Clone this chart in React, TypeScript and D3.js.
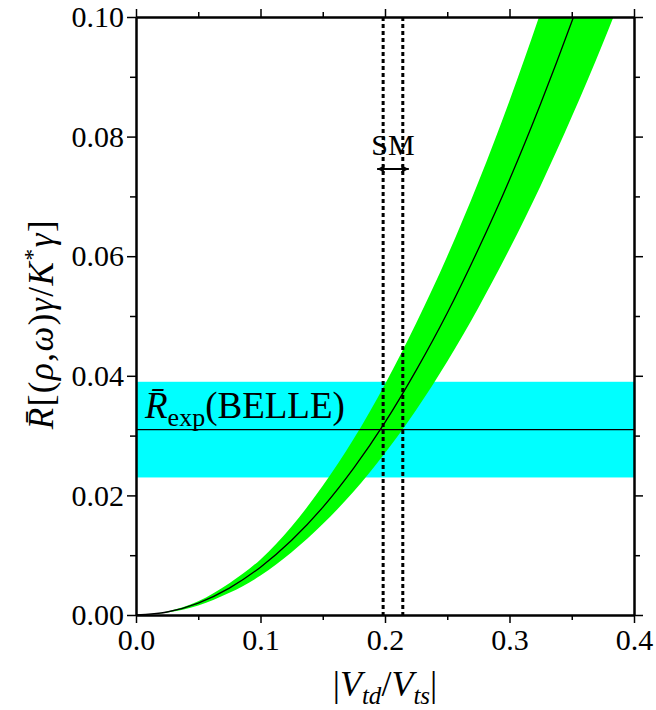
import React, { useRef, useEffect } from "react";
import * as d3 from "d3";

// |Vtd/Vts| sample points and band
const vtd = [0, 0.025, 0.05, 0.075, 0.1, 0.125, 0.15, 0.175, 0.2, 0.225, 0.25, 0.275, 0.3, 0.325, 0.35, 0.375, 0.4];
const rCentral = [0, 0.0005, 0.002, 0.0045, 0.008, 0.0125, 0.018, 0.0246, 0.0322, 0.0409, 0.0505, 0.0612, 0.0728, 0.0855, 0.0992, 0.1139, 0.1296];
const rUpper = [0, 0.0006, 0.0023, 0.0053, 0.0093, 0.0148, 0.0216, 0.0295, 0.0386, 0.0488, 0.06, 0.0724, 0.086, 0.1008, 0.1164, 0.1336, 0.152];
const rLower = [0, 0.0004, 0.0016, 0.0037, 0.0066, 0.0105, 0.0152, 0.0207, 0.0271, 0.0343, 0.0424, 0.0514, 0.0612, 0.0718, 0.0833, 0.0956, 0.1088];

// BELLE measurement: central value and band
const belle = { value: 0.031, lo: 0.023, hi: 0.039 };
// SM range for |Vtd/Vts|
const smRange = [0.1985, 0.2143];

const xMajor = [0, 0.1, 0.2, 0.3, 0.4];
const xMinor = [0.05, 0.15, 0.25, 0.35];
const yMajor = [0, 0.02, 0.04, 0.06, 0.08, 0.1];
const yMinor = [0.01, 0.03, 0.05, 0.07, 0.09];

const W = 656, H = 710;
const FONT = "Liberation Serif, Times New Roman, serif";

export default function App() {
  const ref = useRef<SVGSVGElement>(null);

  useEffect(() => {
    const svg = d3.select(ref.current);
    svg.selectAll("*").remove();

    const left = 136, right = 634, top = 17, bottom = 615;
    const x = d3.scaleLinear().domain([0, 0.4]).range([left, right]);
    const y = d3.scaleLinear().domain([0, 0.1]).range([bottom, top]);

    svg.append("defs").append("clipPath").attr("id", "plot")
      .append("rect").attr("x", left).attr("y", top)
      .attr("width", right - left).attr("height", bottom - top);

    const plot = svg.append("g").attr("clip-path", "url(#plot)");

    // BELLE band
    plot.append("rect")
      .attr("x", left).attr("width", right - left)
      .attr("y", y(belle.hi)).attr("height", y(belle.lo) - y(belle.hi))
      .attr("fill", "#00ffff");

    // theory band
    const pts = vtd.map((v, i) => ({ v, c: rCentral[i], u: rUpper[i], l: rLower[i] }));
    const area = d3.area<any>()
      .x((d) => x(d.v)).y0((d) => y(d.l)).y1((d) => y(d.u))
      .curve(d3.curveMonotoneX);
    plot.append("path").attr("d", area(pts)).attr("fill", "#00ff00");

    const line = d3.line<any>().x((d) => x(d.v)).y((d) => y(d.c)).curve(d3.curveMonotoneX);
    plot.append("path").attr("d", line(pts))
      .attr("fill", "none").attr("stroke", "#000").attr("stroke-width", 1.3);

    plot.append("line")
      .attr("x1", left).attr("x2", right)
      .attr("y1", y(belle.value)).attr("y2", y(belle.value))
      .attr("stroke", "#000").attr("stroke-width", 1.3);

    // SM dotted lines
    smRange.forEach((v) => {
      plot.append("line")
        .attr("x1", x(v)).attr("x2", x(v)).attr("y1", top).attr("y2", bottom)
        .attr("stroke", "#000").attr("stroke-width", 3).attr("stroke-dasharray", "4,3");
    });

    // axes: major and minor ticks on all sides
    const styleAxis = (g: any) => {
      g.attr("font-family", FONT).attr("font-size", 30);
      g.select(".domain").attr("stroke-width", 2);
      g.selectAll(".tick line").attr("stroke-width", 1.5);
      g.selectAll(".tick text")
        .style("font-family", FONT).style("font-size", "30px").attr("fill", "#000");
    };
    const fx = d3.format(".1f");
    const fy = d3.format(".2f");

    svg.append("g").attr("transform", `translate(0,${bottom})`)
      .call(d3.axisBottom(x).tickValues(xMinor).tickSize(5).tickSizeOuter(0).tickFormat(() => ""))
      .call(styleAxis);
    svg.append("g").attr("transform", `translate(0,${bottom})`)
      .call(d3.axisBottom(x).tickValues(xMajor).tickSize(8).tickSizeOuter(0).tickPadding(6).tickFormat((d: any) => fx(d)))
      .call(styleAxis);
    svg.append("g").attr("transform", `translate(0,${top})`)
      .call(d3.axisTop(x).tickValues(xMinor).tickSize(5).tickSizeOuter(0).tickFormat(() => ""))
      .call(styleAxis);
    svg.append("g").attr("transform", `translate(0,${top})`)
      .call(d3.axisTop(x).tickValues(xMajor).tickSize(8).tickSizeOuter(0).tickFormat(() => ""))
      .call(styleAxis);
    svg.append("g").attr("transform", `translate(${left},0)`)
      .call(d3.axisLeft(y).tickValues(yMinor).tickSize(6).tickSizeOuter(0).tickFormat(() => ""))
      .call(styleAxis);
    svg.append("g").attr("transform", `translate(${left},0)`)
      .call(d3.axisLeft(y).tickValues(yMajor).tickSize(9).tickSizeOuter(0).tickPadding(3).tickFormat((d: any) => fy(d)))
      .call(styleAxis);
    svg.append("g").attr("transform", `translate(${right},0)`)
      .call(d3.axisRight(y).tickValues(yMinor).tickSize(6).tickSizeOuter(0).tickFormat(() => ""))
      .call(styleAxis);
    svg.append("g").attr("transform", `translate(${right},0)`)
      .call(d3.axisRight(y).tickValues(yMajor).tickSize(9).tickSizeOuter(0).tickFormat(() => ""))
      .call(styleAxis);

    // SM label and double arrow
    svg.append("text")
      .attr("x", x((smRange[0] + smRange[1]) / 2)).attr("y", 155)
      .attr("text-anchor", "middle").attr("font-family", FONT).attr("font-size", 30)
      .text("SM");
    const ay = 169, ax0 = x(smRange[0]) - 6, ax1 = x(smRange[1]) + 6;
    svg.append("line").attr("x1", ax0).attr("x2", ax1).attr("y1", ay).attr("y2", ay)
      .attr("stroke", "#000").attr("stroke-width", 2);
    svg.append("path")
      .attr("d", `M${ax0},${ay}l8,-4l-2,4l2,4z M${ax1},${ay}l-8,-4l2,4l-2,4z`)
      .attr("fill", "#000");

    // BELLE label
    const bl = svg.append("text").attr("x", 145).attr("y", 418)
      .attr("font-family", FONT).attr("font-size", 37);
    bl.append("tspan").attr("font-style", "italic").text("R\u0304");
    bl.append("tspan").attr("font-size", 26).attr("dy", 8).text("exp");
    bl.append("tspan").attr("dy", -8).text("(BELLE)");

    // x title
    const xt = svg.append("text").attr("x", 385).attr("y", 696)
      .attr("text-anchor", "middle").attr("font-family", FONT).attr("font-size", 36);
    xt.append("tspan").text("|");
    xt.append("tspan").attr("font-style", "italic").text("V");
    xt.append("tspan").attr("font-style", "italic").attr("font-size", 25).attr("dy", 8).text("td");
    xt.append("tspan").attr("dy", -8).text("/");
    xt.append("tspan").attr("font-style", "italic").text("V");
    xt.append("tspan").attr("font-style", "italic").attr("font-size", 25).attr("dy", 8).text("ts");
    xt.append("tspan").attr("dy", -8).text("|");

    // y title
    const yt = svg.append("text").attr("transform", "translate(53,324) rotate(-90)")
      .attr("text-anchor", "middle").attr("font-family", FONT).attr("font-size", 35)
      .attr("letter-spacing", 1.5);
    yt.append("tspan").attr("font-style", "italic").text("R\u0304");
    yt.append("tspan").text("[(");
    yt.append("tspan").attr("font-style", "italic").text("ρ");
    yt.append("tspan").text(",");
    yt.append("tspan").attr("font-style", "italic").text("ω");
    yt.append("tspan").text(")");
    yt.append("tspan").attr("font-style", "italic").text("γ");
    yt.append("tspan").text("/");
    yt.append("tspan").attr("font-style", "italic").text("K");
    yt.append("tspan").attr("font-size", 24).attr("dy", -13).text("*");
    yt.append("tspan").attr("font-style", "italic").attr("dy", 13).text("γ");
    yt.append("tspan").text("]");
  }, []);

  return (
    <svg ref={ref} width={W} height={H} style={{ position: "absolute", left: 0, top: 0, background: "#fff" }} />
  );
}
